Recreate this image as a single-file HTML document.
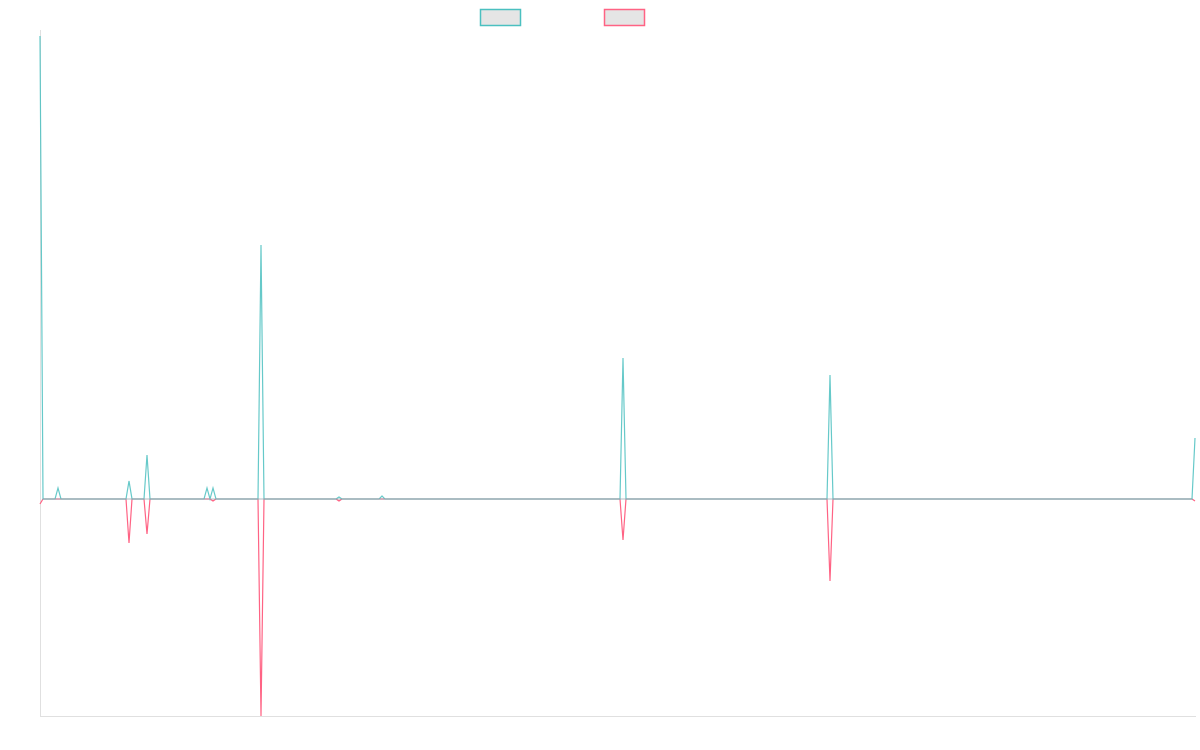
<!DOCTYPE html>
<html><head><style>body{margin:0;background:#fff}svg{display:block}</style></head><body>
<svg width="1200" height="750" xmlns="http://www.w3.org/2000/svg">
<line x1="40.5" y1="30" x2="40.5" y2="716.5" stroke="#e0e0e0" stroke-width="1"/>
<line x1="40" y1="716.5" x2="1196" y2="716.5" stroke="#e0e0e0" stroke-width="1"/>
<rect x="480.5" y="9.5" width="40" height="16" fill="#e5e5e5" stroke="#4bc0c0" stroke-width="1.5"/>
<rect x="604.5" y="9.5" width="40" height="16" fill="#e5e5e5" stroke="#ff6384" stroke-width="1.5"/>
<polyline fill="none" stroke="#ff6384" stroke-width="1.2" stroke-linejoin="miter" points="40,504 43,499 126,499 129,543 132,499 144,499 147,534 150,499 210,499 213,501 216,499 258,499 261,716 264,499 336,499 339,501 342,499 620,499 623,540 626,499 827,499 830,581 833,499 1192,499 1195,501"/>
<polyline fill="none" stroke="#4bc0c0" stroke-width="1.2" stroke-opacity="0.85" stroke-linejoin="miter" points="40,36 43,499 55,499 58,488 61,499 126,499 129,481 132,499 144,499 147,455 150,499 204,499 207,488 210,499 213,488 216,499 258,499 261,245 264,499 336,499 339,497 342,499 379,499 382,496 385,499 620,499 623,358 626,499 827,499 830,375 833,499 1192,499 1195,438"/>
<line x1="43" y1="499" x2="1192" y2="499" stroke="#9aa8b0" stroke-width="1.2" opacity="0.6"/>
</svg>
</body></html>
